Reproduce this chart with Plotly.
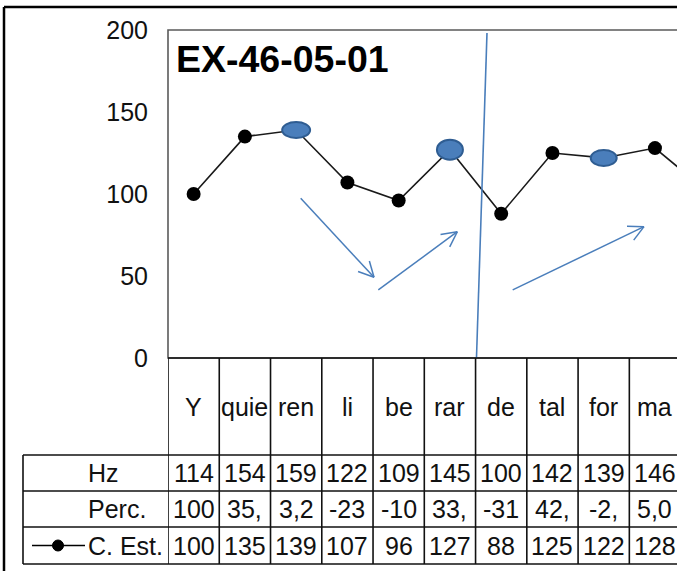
import math
import plotly.graph_objects as go

# ---------------- data ----------------
categories = ["Y", "quie", "ren", "li", "be", "rar", "de", "tal", "for", "ma", "…"]
hz_values = ["114", "154", "159", "122", "109", "145", "100", "142", "139", "146"]
perc_values = ["100", "35,", "3,2", "-23", "-10", "33,", "-31", "42,", "-2,", "5,0"]
c_est_values = [100, 135, 139, 107, 96, 127, 88, 125, 122, 128, 102]
stressed = ["ren", "rar", "for"]
y_ticks = [0, 50, 100, 150, 200]
row_labels = ["Hz", "Perc.", "C. Est."]
title_text = "EX-46-05-01"

# ---------------- layout / style constants ----------------
W, H = 677, 571
ML, MR, MT, MB = 168, 0, 30, 213
PLOT_W = W - ML - MR
PLOT_H = H - MT - MB
COL_W = 51.26                      # pixel width of one category
XMIN = -0.5
XMAX = XMIN + PLOT_W / COL_W
YMIN, YMAX = 0, 200
PX_X = PLOT_W / (XMAX - XMIN)
PX_Y = PLOT_H / (YMAX - YMIN)
BOTTOM = MT + PLOT_H               # pixel row of the x axis

FONT = "Liberation Sans, Arial, sans-serif"
BLUE = "#4a7ebb"
ELLIPSE_PX = {"ren": (28, 16), "rar": (26, 20), "for": (26, 16)}


def py(pix):
    """page pixel row -> paper y"""
    return (BOTTOM - pix) / PLOT_H


def pxp(pix):
    """page pixel column -> paper x"""
    return (pix - ML) / PLOT_W


fig = go.Figure()
fig.add_trace(go.Scatter(
    x=categories, y=c_est_values, mode="lines+markers",
    line=dict(color="#1a1a1a", width=1.6),
    marker=dict(color="#000000", size=14),
    name="C. Est.", showlegend=False, hoverinfo="skip",
))

shapes = []
annotations = []

# outer chart frame (left & top visible)
shapes.append(dict(type="line", xref="paper", yref="paper", x0=pxp(4), x1=pxp(4),
                   y0=py(600), y1=py(7), line=dict(color="black", width=2.5)))
shapes.append(dict(type="line", xref="paper", yref="paper", x0=pxp(4), x1=1.2,
                   y0=py(7), y1=py(7), line=dict(color="black", width=2.5)))

# plot-area border
shapes.append(dict(type="rect", xref="paper", yref="paper", x0=0, x1=1.1, y0=0, y1=1,
                   line=dict(color="#5a5a5a", width=1.6), layer="above"))

# stressed syllables: blue ellipses over the points
for cat in stressed:
    i = categories.index(cat)
    w, h = ELLIPSE_PX[cat]
    shapes.append(dict(type="circle", xref="x", yref="y", xsizemode="pixel", ysizemode="pixel",
                       xanchor=i, yanchor=c_est_values[i],
                       x0=-w / 2, x1=w / 2, y0=-h / 2, y1=h / 2,
                       fillcolor=BLUE, line=dict(color="#2f5d92", width=2), layer="above"))

# hand-drawn boundary line
shapes.append(dict(type="line", xref="x", yref="y", x0=5.723, y0=198.2, x1=5.518, y1=0,
                   line=dict(color=BLUE, width=1.6), layer="above"))

# hand-drawn arrows (tail -> tip), in data coordinates
arrows = [((2.089, 97.4), (3.519, 49.2)),
          ((3.603, 41.5), (5.144, 77.0)),
          ((6.225, 41.5), (8.786, 80.1))]
ARM_LEN, ARM_ANG = 17, math.radians(27)
for (xs, ys), (xt, yt) in arrows:
    shapes.append(dict(type="line", xref="x", yref="y", x0=xs, y0=ys, x1=xt, y1=yt,
                       line=dict(color=BLUE, width=1.5), layer="above"))
    dx, dy = (xs - xt) * PX_X, -(ys - yt) * PX_Y
    n = math.hypot(dx, dy)
    ux, uy = dx / n, dy / n
    for s in (1, -1):
        c, si = math.cos(s * ARM_ANG), math.sin(s * ARM_ANG)
        ax, ay = (ux * c - uy * si) * ARM_LEN, (ux * si + uy * c) * ARM_LEN
        shapes.append(dict(type="line", xref="x", yref="y", x0=xt, y0=yt,
                           x1=xt + ax / PX_X, y1=yt - ay / PX_Y,
                           line=dict(color=BLUE, width=1.5), layer="above"))

# ---------------- data table ----------------
TABLE_LINE = dict(color="#111111", width=1.6)
row_edges = [455, 491, 527, 564]
n_cols = len(hz_values)
# category row top (x axis line)
shapes.append(dict(type="line", xref="paper", yref="paper", x0=0, x1=1.1, y0=0, y1=0,
                   line=TABLE_LINE))
for r in row_edges:
    shapes.append(dict(type="line", xref="paper", yref="paper", x0=pxp(23), x1=1.1,
                       y0=py(r), y1=py(r), line=TABLE_LINE))
shapes.append(dict(type="line", xref="paper", yref="paper", x0=pxp(23), x1=pxp(23),
                   y0=py(row_edges[0]), y1=py(row_edges[-1]), line=TABLE_LINE))
for i in range(n_cols + 1):
    shapes.append(dict(type="line", xref="x", yref="paper", x0=i - 0.5, x1=i - 0.5,
                       y0=0, y1=py(row_edges[-1]), line=TABLE_LINE))

TFONT = dict(family=FONT, size=25, color="#111111")
cat_y = py((BOTTOM + row_edges[0]) / 2)
row_y = [py((row_edges[k] + row_edges[k + 1]) / 2) for k in range(3)]
for i in range(n_cols):
    annotations.append(dict(xref="x", yref="paper", x=i, y=cat_y, text=categories[i],
                            showarrow=False, font=TFONT, xanchor="center", yanchor="middle"))
table_rows = [hz_values, perc_values, [str(v) for v in c_est_values[:n_cols]]]
for k, vals in enumerate(table_rows):
    for i, v in enumerate(vals):
        annotations.append(dict(xref="x", yref="paper", x=i, y=row_y[k], text=v,
                                showarrow=False, font=TFONT, xanchor="center", yanchor="middle"))
    annotations.append(dict(xref="paper", yref="paper", x=pxp(86), y=row_y[k], text=row_labels[k],
                            showarrow=False, font=TFONT, xanchor="left", yanchor="middle"))

# legend key for C. Est.
shapes.append(dict(type="line", xref="paper", yref="paper", x0=pxp(32), x1=pxp(85),
                   y0=row_y[2], y1=row_y[2], line=dict(color="black", width=1.6)))
shapes.append(dict(type="circle", xref="paper", yref="paper", xsizemode="pixel", ysizemode="pixel",
                   xanchor=pxp(58), yanchor=row_y[2], x0=-5.5, x1=5.5, y0=-5.5, y1=5.5,
                   fillcolor="black", line=dict(color="black", width=1)))

# title
annotations.append(dict(xref="paper", yref="paper", x=pxp(174), y=py(59), text=title_text,
                        showarrow=False, xanchor="left", yanchor="middle",
                        font=dict(family=FONT, size=37.5, color="black", weight="bold")))

fig.update_layout(
    width=W, height=H,
    margin=dict(l=ML, r=MR, t=MT, b=MB, pad=0),
    paper_bgcolor="white", plot_bgcolor="white",
    showlegend=False,
    xaxis=dict(range=[XMIN, XMAX], showticklabels=False, showgrid=False, zeroline=False,
               showline=False, ticks=""),
    yaxis=dict(range=[YMIN, YMAX], tickvals=y_ticks, showgrid=False, zeroline=False,
               showline=False, ticks="", ticklabelstandoff=19,
               tickfont=dict(family=FONT, size=25, color="#111111")),
    shapes=shapes,
    annotations=annotations,
)

fig.write_html("out.html", config={"displayModeBar": False},
               post_script="document.body.style.margin='0';document.body.style.overflow='hidden';")
